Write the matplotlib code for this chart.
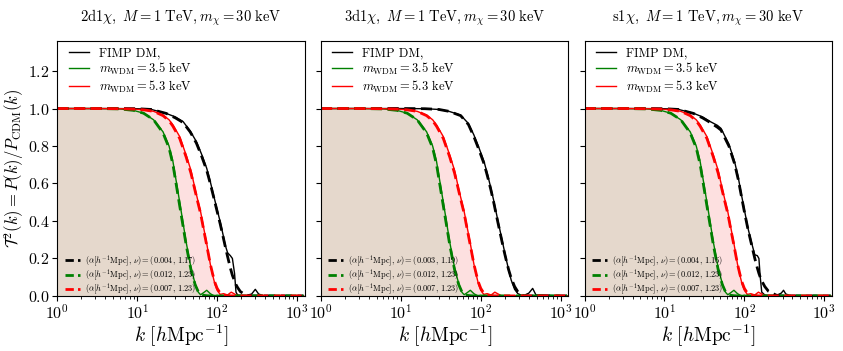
import numpy as np
import matplotlib
matplotlib.use("Agg")
import matplotlib.pyplot as plt
from matplotlib.lines import Line2D

plt.rcParams["mathtext.fontset"] = "cm"
plt.rcParams["font.family"] = "serif"
plt.rcParams["font.serif"] = ["cmr10", "DejaVu Serif"]
plt.rcParams["axes.formatter.use_mathtext"] = True

# WDM curves (same in every panel)
k_wdm = [1, 3, 6, 9, 12, 16, 21, 25, 28, 34, 41, 47, 53, 58, 62, 68, 74, 82,
         88, 94, 100, 109, 120, 135, 150, 165, 180, 250, 1200]
green_solid = [1.0, 1.0, 0.998, 0.99, 0.975, 0.94, 0.876, 0.80, 0.716, 0.50, 0.285,
               0.15, 0.065, 0.02, 0.006, 0.018, 0.03, 0.012, 0.004, 0.002, 0.004,
               0.001, 0.0, 0.0, 0.0, 0.0, 0.0, 0.0, 0.0]
green_dash = [1.0, 1.0, 0.998, 0.99, 0.975, 0.94, 0.87, 0.79, 0.70, 0.48, 0.27,
              0.14, 0.06, 0.022, 0.008, 0.003, 0.001, 0.0, 0.0, 0.0, 0.0, 0.0,
              0.0, 0.0, 0.0, 0.0, 0.0, 0.0, 0.0]
red_solid = [1.0, 1.0, 0.999, 0.997, 0.993, 0.985, 0.965, 0.94, 0.912, 0.85, 0.75,
             0.67, 0.57, 0.50, 0.45, 0.36, 0.28, 0.17, 0.11, 0.06, 0.03, 0.008,
             0.012, 0.005, 0.02, 0.01, 0.002, 0.0, 0.0]
red_dash = [1.0, 1.0, 0.999, 0.997, 0.993, 0.985, 0.962, 0.935, 0.905, 0.84, 0.74,
            0.655, 0.56, 0.49, 0.44, 0.35, 0.27, 0.17, 0.115, 0.07, 0.04, 0.015,
            0.004, 0.001, 0.0, 0.0, 0.0, 0.0, 0.0]

# FIMP curves, one per panel
k_fimp1 = [1, 5, 10, 15, 23, 30, 37.5, 46, 55, 64, 74, 82, 90, 100, 109, 118, 126,
           135, 146, 155, 165, 172, 180, 195, 230, 270, 300, 330, 380, 1200]
fimp1_solid = [1.0, 1.0, 0.999, 0.995, 0.974, 0.955, 0.93, 0.88, 0.823, 0.755, 0.681,
               0.61, 0.539, 0.46, 0.396, 0.33, 0.272, 0.23, 0.215, 0.2, 0.12, 0.02,
               0.005, 0.003, 0.002, 0.01, 0.035, 0.01, 0.001, 0.0]
fimp1_dash = [1.0, 1.0, 0.999, 0.995, 0.974, 0.95, 0.925, 0.875, 0.815, 0.745, 0.67,
              0.6, 0.53, 0.45, 0.385, 0.32, 0.265, 0.21, 0.15, 0.11, 0.08, 0.06,
              0.045, 0.023, 0.004, 0.0, 0.0, 0.0, 0.0, 0.0]

k_fimp2 = [1, 10, 20, 30, 40, 56, 70, 82, 95, 110, 122, 134, 145, 155, 167, 179,
           193, 207, 223, 240, 265, 291, 320, 350, 400, 446, 490, 1200]
fimp2_solid = [1.0, 1.0, 0.999, 0.995, 0.985, 0.965, 0.92, 0.859, 0.79, 0.716, 0.645,
               0.574, 0.51, 0.45, 0.385, 0.325, 0.26, 0.2, 0.14, 0.085, 0.035, 0.012,
               0.004, 0.003, 0.015, 0.04, 0.005, 0.0]
fimp2_dash = [1.0, 1.0, 0.999, 0.995, 0.985, 0.962, 0.915, 0.85, 0.78, 0.705, 0.635,
              0.565, 0.5, 0.44, 0.375, 0.315, 0.25, 0.195, 0.14, 0.095, 0.05, 0.022,
              0.006, 0.0, 0.0, 0.0, 0.0, 0.0]

k_fimp3 = [1, 5, 10, 15, 23, 30, 37.5, 46, 51, 64, 75.5, 84, 92, 101, 111, 122, 135,
           145, 152, 158, 165, 180, 200, 250, 290, 309, 330, 380, 1200]
fimp3_solid = [1.0, 1.0, 0.999, 0.995, 0.975, 0.955, 0.93, 0.91, 0.894, 0.81, 0.716,
               0.63, 0.539, 0.45, 0.361, 0.29, 0.219, 0.215, 0.2, 0.1, 0.02, 0.005,
               0.003, 0.002, 0.015, 0.03, 0.01, 0.001, 0.0]
fimp3_dash = [1.0, 1.0, 0.999, 0.995, 0.974, 0.95, 0.925, 0.9, 0.885, 0.8, 0.705,
              0.62, 0.53, 0.44, 0.355, 0.28, 0.2, 0.15, 0.12, 0.1, 0.08, 0.05,
              0.025, 0.004, 0.0, 0.0, 0.0, 0.0, 0.0]

titles = [r"$\mathrm{2d1}\chi,\ M = 1\ \mathrm{TeV}, m_\chi = 30\ \mathrm{keV}$",
          r"$\mathrm{3d1}\chi,\ M = 1\ \mathrm{TeV}, m_\chi = 30\ \mathrm{keV}$",
          r"$\mathrm{s1}\chi,\ M = 1\ \mathrm{TeV}, m_\chi = 30\ \mathrm{keV}$"]
fimp_params = [r"(0.004,\, 1.17)", r"(0.003,\, 1.19)", r"(0.004,\, 1.16)"]
wdm_params = [r"(0.012,\, 1.23)", r"(0.007,\, 1.23)"]

fimp_k = [k_fimp1, k_fimp2, k_fimp3]
fimp_solid = [fimp1_solid, fimp2_solid, fimp3_solid]
fimp_dash = [fimp1_dash, fimp2_dash, fimp3_dash]

fig, axes = plt.subplots(1, 3, figsize=(8.43, 3.51), dpi=100, sharey=True)
fig.subplots_adjust(left=0.068, right=0.987, top=0.883, bottom=0.157, wspace=0.065)

tan = "#e5d8cc"
pink = "#fde0e0"

for i, ax in enumerate(axes):
    ax.fill_between(k_wdm, 0, green_solid, color=tan, lw=0)
    ax.fill_between(k_wdm, green_solid, red_solid, color=pink, lw=0)

    ax.plot(fimp_k[i], fimp_solid[i], color="black", lw=1.0)
    ax.plot(k_wdm, green_solid, color="green", lw=1.0)
    ax.plot(k_wdm, red_solid, color="red", lw=1.0)

    ax.plot(fimp_k[i], fimp_dash[i], color="black", lw=2.0, ls=(0, (4, 2)))
    ax.plot(k_wdm, green_dash, color="green", lw=2.0, ls=(0, (4, 2)))
    ax.plot(k_wdm, red_dash, color="red", lw=2.0, ls=(0, (4, 2)))

    ax.set_xscale("log")
    ax.set_xlim(1, 1250)
    ax.set_ylim(0, 1.36)
    ax.set_title(titles[i], fontsize=10.5, pad=14)
    ax.set_xlabel(r"$k\ [h\mathrm{Mpc}^{-1}]$", fontsize=14, labelpad=1)
    ax.tick_params(labelsize=11.5, pad=2)

    top_handles = [Line2D([], [], color="black", lw=1.0),
                   Line2D([], [], color="green", lw=1.0),
                   Line2D([], [], color="red", lw=1.0)]
    top_labels = ["FIMP DM,", r"$m_{\rm WDM} = 3.5$ keV", r"$m_{\rm WDM} = 5.3$ keV"]
    leg1 = ax.legend(top_handles, top_labels, loc="upper left", frameon=False,
                     fontsize=9, handlelength=1.6, labelspacing=0.12,
                     bbox_to_anchor=(0.0, 1.02))
    ax.add_artist(leg1)

    bot_handles = [Line2D([], [], color=c, lw=2.0, ls=(0, (3, 1.5)))
                   for c in ["black", "green", "red"]]
    bot_labels = [r"$(\alpha[h^{-1}\mathrm{Mpc}],\, \nu) = " + p + "$"
                  for p in [fimp_params[i]] + wdm_params]
    ax.legend(bot_handles, bot_labels, loc="lower left", frameon=False,
              fontsize=6.0, handlelength=1.8, handletextpad=0.6, labelspacing=-0.12,
              bbox_to_anchor=(0.0, -0.035))

axes[0].set_ylabel(r"$\mathcal{T}^2(k) = P(k)/P_{\rm CDM}(k)$", fontsize=12, labelpad=1)

plt.savefig("out.png", dpi=100)
